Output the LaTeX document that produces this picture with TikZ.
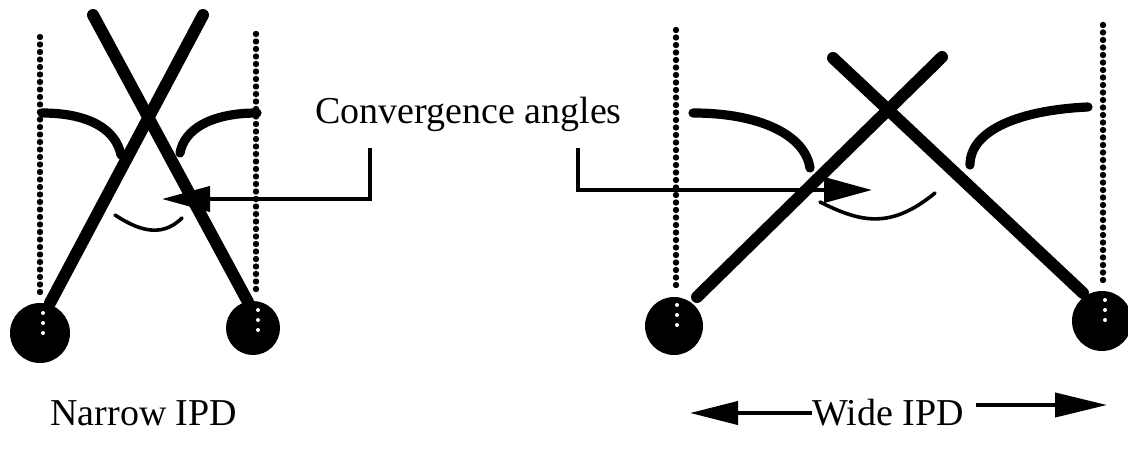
\documentclass[tikz,border=0pt]{standalone}
\usepackage{fontspec}
\setmainfont{Liberation Serif}
\usetikzlibrary{arrows.meta}
\tikzset{
  stick/.style={line width=6pt, line cap=round},
  dotline/.style={line width=3.2pt, line cap=round, dash pattern=on 0pt off 3.75pt},
  wdots/.style={white, line width=2pt, line cap=round, dash pattern=on 0pt off 5pt},
  bigarc/.style={line width=4.6pt, line cap=round},
  thinarc/.style={line width=1.8pt, line cap=round},
  pointer/.style={line width=2pt, -{Triangle[length=24pt,width=12.5pt]}},
  ballnode/.style={circle, fill=black, inner sep=0pt, minimum size=#1},
  lbl/.style={inner sep=0pt, anchor=base west, font=\fontsize{19}{22}\selectfont}
}
\begin{document}
\begin{tikzpicture}[x=0.5pt,y=-0.5pt]
\useasboundingbox (0,0) rectangle (1128,449);
% ---------- left figure (narrow IPD) ----------
\draw[dotline] (40,37) -- (40,297);
\draw[dotline] (256,34) -- (256,294);
\node[ballnode=30pt] (ballA) at (40,333) {};
\node[ballnode=27pt] (ballB) at (253,328) {};
\draw[wdots] (43,313) -- (43,333);
\draw[wdots] (258,310) -- (258,330);
\coordinate (aTop) at (203,15);
\coordinate (aBot) at (50,303);
\coordinate (bTop) at (93,15);
\coordinate (bBot) at (248,302);
\draw[stick] (aBot) -- (aTop);
\draw[stick] (bTop) -- (bBot);
\draw[bigarc] (42,113) .. controls (90,113) and (116,130) .. (121,155);
\draw[bigarc] (257,113) .. controls (210,113) and (184,130) .. (180,153);
\draw[thinarc] (115,215) .. controls (135,228) and (160,240) .. (182,218);
% ---------- right figure (wide IPD) ----------
\draw[dotline] (676,30) -- (676,288);
\draw[dotline] (1103,25) -- (1103,284);
\node[ballnode=29pt] (ballC) at (674,326) {};
\node[ballnode=30pt] (ballD) at (1102,321) {};
\draw[wdots] (677,305) -- (677,325);
\draw[wdots] (1105,300) -- (1105,320);
\coordinate (cTop) at (942,57);
\coordinate (cBot) at (697,297);
\coordinate (dTop) at (833,58);
\coordinate (dBot) at (1083,293);
\draw[stick] (cBot) -- (cTop);
\draw[stick] (dTop) -- (dBot);
\draw[bigarc] (693,113) .. controls (760,113) and (805,135) .. (810,168);
\draw[bigarc] (1088,107) .. controls (1020,110) and (970,130) .. (970,165);
\draw[thinarc] (820,202) .. controls (860,222) and (890,230) .. (935,193);
% ---------- labels ----------
\node[lbl] (conv) at (315,123) {Convergence angles};
\coordinate (brL) at (370,148);
\coordinate (brR) at (578,148);
\coordinate (tipL) at (162,199);
\coordinate (tipR) at (872,190);
\draw[pointer] (brL) |- (tipL);
\draw[pointer] (brR) |- (tipR);
\node[lbl] (narrow) at (50,425) {Narrow IPD};
\node[lbl] (wide) at (812,425) {Wide IPD};
\coordinate (wL) at (690,413);
\coordinate (wR) at (1107,405);
\draw[line width=2pt, -{Triangle[length=24pt,width=11.5pt]}] (wide.west |- wL) -- (wL);
\draw[line width=2pt, -{Triangle[length=26pt,width=12pt]}] ([xshift=6pt]wide.east |- wR) -- (wR);
\end{tikzpicture}
\end{document}
